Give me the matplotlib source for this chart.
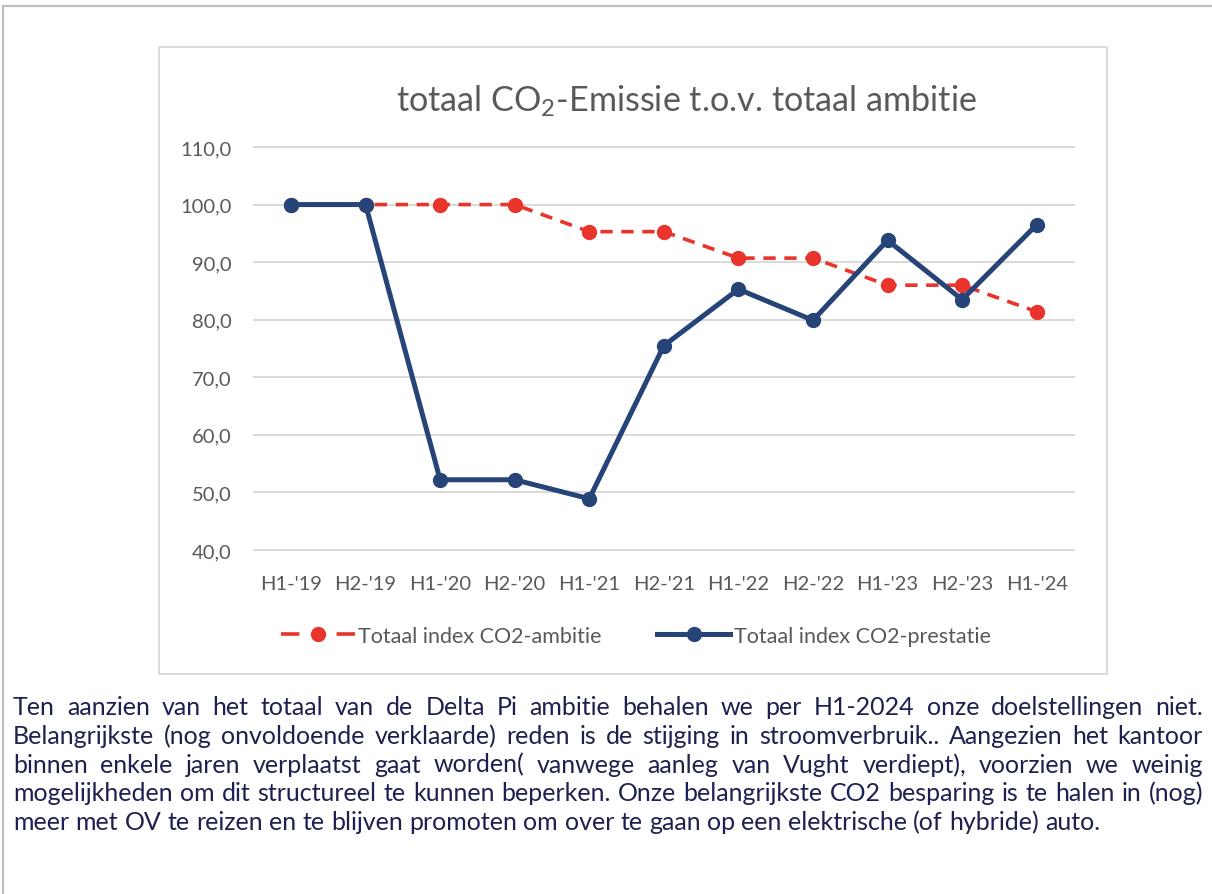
import matplotlib

matplotlib.use("Agg")
import matplotlib.pyplot as plt
from matplotlib.lines import Line2D
from matplotlib.patches import Rectangle

periods = ["H1-'19", "H2-'19", "H1-'20", "H2-'20", "H1-'21", "H2-'21",
           "H1-'22", "H2-'22", "H1-'23", "H2-'23", "H1-'24"]
ambitie = [100.0, 100.0, 100.0, 100.0, 95.3, 95.3, 90.7, 90.7, 86.0, 86.0, 81.4]
prestatie = [100.0, 100.0, 52.2, 52.2, 48.9, 75.5, 85.3, 79.9, 93.8, 83.5, 96.5]
yticks = [40, 50, 60, 70, 80, 90, 100, 110]

title = "totaal CO$_\\mathregular{2}$-Emissie t.o.v. totaal ambitie"
label_ambitie = "Totaal index CO2-ambitie"
label_prestatie = "Totaal index CO2-prestatie"
body_lines = [
    "Ten aanzien van het totaal van de Delta Pi ambitie behalen we per H1-2024 onze doelstellingen niet.",
    "Belangrijkste (nog onvoldoende verklaarde) reden is de stijging in stroomverbruik.. Aangezien het kantoor",
    "binnen enkele jaren verplaatst gaat worden( vanwege aanleg van Vught verdiept), voorzien we weinig",
    "mogelijkheden om dit structureel te kunnen beperken. Onze belangrijkste CO2 besparing is te halen in (nog)",
    "meer met OV te reizen en te blijven promoten om over te gaan op een elektrische (of hybride) auto.",
]

RED = "#E8342A"
BLUE = "#264478"
GREY_TXT = "#595959"
GRID = "#D9D9D9"
NAVY = "#1E2150"

W, H = 1212, 895
plt.rcParams["font.family"] = ["Lato", "DejaVu Sans"]
fig = plt.figure(figsize=(W / 100, H / 100), dpi=100)


def fx(x):
    return x / W


def fy(y):
    return 1 - y / H


# outer page frame and chart box
fig.add_artist(Line2D([fx(3), 1], [fy(7), fy(7)], color="#BFBFBF", lw=1.6, transform=fig.transFigure))
fig.add_artist(Line2D([fx(3), fx(3)], [0, fy(7)], color="#BFBFBF", lw=1.6, transform=fig.transFigure))
fig.add_artist(Rectangle((fx(159), fy(675)), fx(1107 - 159), (675 - 48) / H, fill=False,
                         ec=GRID, lw=1.3, transform=fig.transFigure))

ax = fig.add_axes([fx(253.7), fy(551), fx(1074 - 253.7), (551 - 148) / H])
x = list(range(len(periods)))
ax.plot(x, ambitie, color=RED, lw=2.6, ls=(0, (3.4, 2.4)), marker="o", ms=10, zorder=3)
ax.plot(x, prestatie, color=BLUE, lw=3.6, marker="o", ms=10, zorder=4)

ax.set_xlim(-0.5, len(periods) - 0.5)
ax.set_ylim(40, 110)
ax.set_yticks(yticks)
ax.set_yticklabels([f"{v:.1f}".replace(".", ",") for v in yticks])
ax.set_xticks(x)
ax.set_xticklabels(periods)
ax.tick_params(length=0, labelsize=14.5, labelcolor=GREY_TXT)
ax.tick_params(axis="y", pad=16)
ax.tick_params(axis="x", pad=18)
ax.grid(axis="y", color=GRID, lw=1.4, clip_on=False)
ax.set_axisbelow(True)
for s in ax.spines.values():
    s.set_visible(False)

fig.text(fx(686), fy(101), title, ha="center", va="center", fontsize=24.6, color=GREY_TXT)

handles = [
    Line2D([], [], color=RED, lw=2.6, ls=(0, (5.1, 10.3)), marker="o", ms=10),
    Line2D([], [], color=BLUE, lw=3.6, marker="o", ms=10),
]
fig.legend(handles, [label_ambitie, label_prestatie], loc="center",
           bbox_to_anchor=(fx(636), fy(637)), ncol=2, frameon=False, fontsize=15.5,
           labelcolor=GREY_TXT, handlelength=3.4, handletextpad=0.15, columnspacing=2.6)

# justified body text
fig.canvas.draw()
renderer = fig.canvas.get_renderer()
left, right = 13, 1203
base = 715
step = 28.8
fs = 18
for i, line in enumerate(body_lines):
    words = line.split(" ")
    y = fy(base + i * step)
    items = [fig.text(0, y, w, fontsize=fs, color=NAVY, va="baseline", ha="left") for w in words]
    widths = [t.get_window_extent(renderer).width for t in items]
    if i < len(body_lines) - 1:
        gap = (right - left - sum(widths)) / (len(words) - 1)
    else:
        sp = fig.text(0, 0, "a a", fontsize=fs)
        a = fig.text(0, 0, "aa", fontsize=fs)
        gap = sp.get_window_extent(renderer).width - a.get_window_extent(renderer).width
        sp.remove()
        a.remove()
    pos = left
    for t, w in zip(items, widths):
        t.set_x(fx(pos))
        pos += w + gap

fig.savefig("out.png", dpi=100)
